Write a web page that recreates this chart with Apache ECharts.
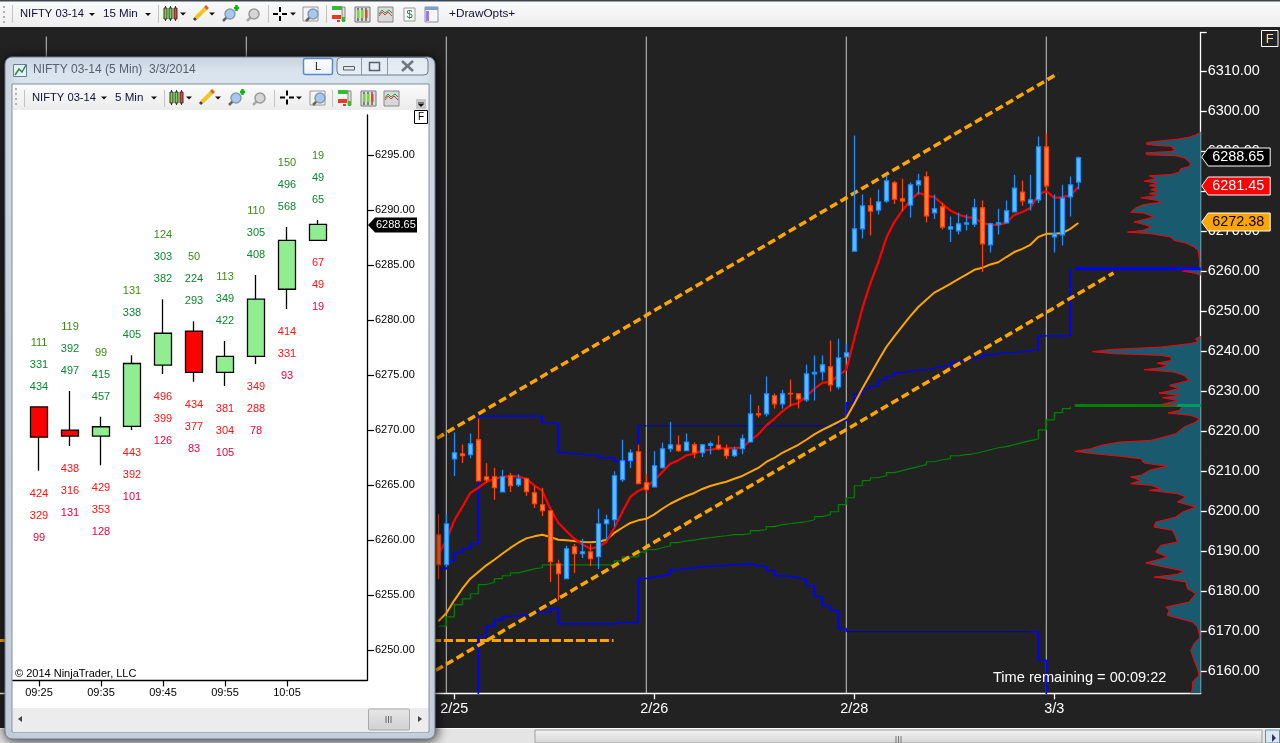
<!DOCTYPE html>
<html><head><meta charset="utf-8">
<style>html,body{margin:0;padding:0;background:#222}#c{width:1280px;height:743px}</style>
<script src="https://cdn.jsdelivr.net/npm/echarts@6/dist/echarts.min.js"></script>
</head><body><div id="c"></div>
<script>
// ---------- main chart data (15 Min) ----------
const firstBar = 54;
const opens = [6194.15,6186.65,6213.1,6214.4,6214.15,6217.9,6208.65,6208.65,6204.85,6208.9,6206.6,6208.15,6204.65,6201.65,6200.15,6186.9,6183.15,6191.15,6189.4,6189.85,6188.65,6196.9,6197.9,6207.9,6212.65,6214.9,6207.15,6206.1,6210.9,6215.65,6216.6,6215.15,6216.65,6214.65,6216.5,6216.6,6215.65,6213.9,6215.65,6217.35,6224.4,6224.4,6228.9,6226.9,6229.5,6229.4,6227.9,6234.4,6234.9,6236.15,6231.1,6238.65,6265.1,6270.65,6276.4,6275.35,6277.6,6282.15,6278.15,6276.6,6281.65,6283.65,6274.65,6276.15,6270.6,6270.15,6271.85,6271.85,6275.9,6266.65,6271.85,6272.15,6274.9,6279.85,6277.1,6277.9,6291.15,6268.65,6269.15,6278.65,6282.35];
const closes = [6186.65,6196.9,6214.65,6213.9,6216.9,6207.6,6207.85,6205.9,6208.65,6206.4,6208.15,6204.9,6201.9,6200.15,6187.4,6184.4,6190.65,6189.4,6189.9,6188.15,6196.9,6197.9,6208.9,6212.65,6214.65,6206.9,6205.4,6211.4,6215.65,6216.65,6215.15,6217.35,6214.65,6216.65,6216.9,6215.65,6213.9,6215.4,6218.15,6224.4,6224.1,6229.4,6226.9,6229.4,6229.35,6228.1,6234.4,6234.75,6236.65,6231.65,6238.4,6239.65,6270.65,6276.4,6275.1,6277.4,6282.65,6278.1,6277.6,6281.65,6282.65,6273.9,6275.65,6271.1,6271.15,6271.9,6272.15,6275.9,6266.9,6271.9,6272.15,6275.15,6280.85,6277.65,6277.9,6291.15,6281.4,6269.4,6278.35,6281.65,6288.4];
const lows = [6183,6186,6208.85,6212.1,6213.3,6207.6,6207.1,6202.9,6204.85,6204.85,6206.1,6203.85,6200.85,6198.85,6182.35,6177.75,6183.15,6184.6,6188.35,6186.35,6185.6,6192.9,6196.25,6207.35,6210.85,6206.9,6204.4,6206.1,6210.65,6214.85,6214.85,6215.1,6213.25,6213.6,6214.25,6215.25,6213.1,6213.6,6214.25,6217.35,6223.5,6223.75,6225.75,6225.65,6226.25,6225.75,6227.35,6227.75,6232.75,6230,6230.5,6238.5,6265.1,6268.25,6269,6274.25,6277.1,6276.85,6275.1,6273.5,6279.25,6272.25,6273.1,6270.5,6267.35,6269.25,6270.25,6271.1,6259.85,6264.75,6269.25,6272.15,6274.85,6276.35,6275.25,6277.1,6280.65,6264.75,6266.5,6273.75,6280.5];
const highs = [6199.25,6199.25,6219.75,6216.75,6219.5,6223.25,6212,6210.9,6210.4,6209.65,6209.25,6208.4,6206.25,6205.9,6200.15,6187.9,6191.4,6191.9,6193.15,6191.75,6200.65,6199.15,6210,6217.9,6215.5,6216.75,6209.25,6215,6217.15,6222.4,6219,6219.5,6217.25,6216.9,6217.5,6219,6216.75,6216.15,6219.25,6229.25,6226.5,6233.75,6229.5,6230.4,6233,6229.4,6236.75,6239,6239,6242.75,6243.15,6241.9,6294,6279.25,6278.4,6280.5,6284,6282.6,6283.15,6282.25,6284.4,6285,6279.25,6277.15,6273.75,6274.65,6274.25,6278.15,6277.75,6272.15,6275.65,6277.75,6284.15,6282.75,6284.15,6293.75,6294.4,6279.25,6281.65,6283.75,6288.75];
const redLine = [6189,6192.75,6197.75,6201.1,6204.6,6205.9,6207.35,6208.15,6208.6,6208.75,6208.75,6208.15,6206.5,6205.1,6200.65,6197.15,6195.1,6193.15,6191.75,6190.65,6191.1,6192.35,6195.9,6199.85,6203.6,6205.1,6206.1,6207.75,6209.85,6211.9,6212.75,6214,6214.4,6215.25,6215.4,6215.75,6215.75,6215.85,6215.9,6217.75,6219.25,6221.5,6223.15,6225,6226.5,6227.1,6228.75,6230.65,6232.15,6232.35,6234,6235.4,6243.25,6250.75,6257,6262.25,6268.4,6272.35,6275.25,6277.75,6279.65,6279,6278.6,6276.9,6275.25,6274.25,6273.6,6273.4,6272.1,6271.65,6271.65,6272.15,6274.15,6274.85,6275.85,6279.25,6280.1,6278.4,6278.6,6279,6281.1];
const orangeLine = [6172.5,6174.5,6177.75,6180.65,6183.15,6184.85,6186.5,6187.9,6189.4,6190.85,6192.15,6193.25,6193.75,6194.15,6193.6,6192.9,6192.75,6192.6,6192.35,6192.25,6192.4,6192.9,6194.6,6195.9,6197.1,6197.75,6198.15,6199.25,6200.65,6201.9,6202.9,6203.85,6204.6,6205.6,6206.35,6206.9,6207.4,6208.15,6208.85,6209.85,6210.85,6212.35,6213.35,6214.65,6215.65,6216.65,6217.9,6219.25,6220.4,6221.35,6222.35,6223.4,6226.9,6230.7,6234.25,6237.75,6241.1,6243.75,6246.3,6248.8,6251.1,6252.9,6254.7,6255.75,6256.9,6258.1,6259.2,6260.4,6260.9,6261.75,6262.3,6263.6,6264.85,6265.65,6266.65,6268.6,6269.4,6269.4,6269.6,6270.65,6272.1];
const greenLine = [6171.3,6173.6,6176.7,6178.1,6179.4,6181.7,6182.2,6183.2,6183.9,6184.6,6185.1,6185.6,6185.9,6186.6,6186.6,6186.6,6186.6,6186.6,6186.6,6186.6,6186.6,6186.6,6187.6,6188.6,6188.6,6189.8,6190.4,6190.9,6191.4,6192.2,6192.6,6192.8,6193.2,6193.4,6193.7,6193.9,6194.2,6194.2,6194.4,6195.2,6195.4,6196.2,6196.7,6196.9,6197.2,6197.4,6197.9,6198.7,6199.2,6199.9,6201.7,6203.4,6206.4,6207.7,6208.4,6208.9,6209.7,6210.2,6210.7,6211.2,6211.7,6212.4,6212.9,6213.2,6213.9,6214.2,6214.4,6214.9,6215.4,6215.9,6216.2,6216.7,6217.2,6217.7,6218.1,6220.4,6222.9,6224.7,6225.7,6226.2];
const blueUpper = [6185.6,6187.6,6189.7,6190.7,6191.9,6223.8,6223.8,6223.8,6223.8,6223.8,6223.8,6223.8,6223.8,6222.2,6221.9,6214.7,6214.4,6214.25,6214,6214,6213.4,6213.4,6212.6,6212.5,6212.5,6221.4,6221.4,6221.4,6221.4,6221.4,6221.4,6221.4,6221.4,6221.4,6221.4,6221.4,6221.4,6221.4,6221.4,6221.4,6221.4,6221.4,6221.4,6221.4,6221.4,6221.4,6221.4,6221.4,6221.4,6221.4,6222.7,6227.2,6229.3,6230.7,6231.3,6232.9,6233.8,6234.7,6235,6235.3,6235.3,6235.8,6236.25,6236.6,6237.3,6237.8,6238.25,6238.4,6239.1,6239.4,6239.7,6239.7,6239.9,6240.2,6240.4,6243.9,6243.9,6243.9,6243.9,6260.5];
const blueLowerStart = 58;
const blueLower = [6150,6168.75,6171.3,6172.8,6173.7,6173.9,6174.1,6174.6,6174.8,6174.8,6175.7,6171.9,6171.9,6171.9,6171.9,6171.9,6171.9,6171.9,6172.2,6172.2,6172.2,6183.2,6183.6,6183.8,6184.3,6185.4,6185.7,6185.8,6186.2,6186.2,6186.4,6186.4,6186.7,6186.7,6186.8,6186.4,6186.2,6185.2,6183.9,6183.7,6183.4,6182.9,6181.4,6178.7,6176.4,6175.2,6170.7,6169.9,6169.9,6169.9,6169.9,6169.9,6169.9,6169.9,6169.9,6169.9,6169.9,6169.9,6169.9,6169.9,6169.9,6169.9,6169.9,6169.9,6169.9,6169.9,6169.9,6169.9,6169.9,6169.9,6169.9,6162.75,6150];
const trendUpperX = [53.84,131.46], trendUpperY = [6218.3,6309.5];
const trendLowerX = [53.7,138.4], trendLowerY = [6160.25,6259.6];
const flatDashX = [-0.8,75.9], flatDashY = [6167.7,6167.7];
const sessionBars = [5,30,55,80,105,130];
const dateBars = [56,81,106,131];
const dateLabels = ['2/25','2/26','2/28','3/3'];
const priceTicks = [6160,6170,6180,6190,6200,6210,6220,6230,6240,6250,6260,6270,6280,6290,6300,6310];
const tagValues = [6288.65,6281.45,6272.38];
const tagFills = ['#000000','#ff0000','#ffa500'];
const tagInks = ['#ffffff','#ffffff','#000000'];
// ---------- volume profile ----------
const profilePrice = [6294.83,6294.17,6293.58,6293.08,6292.75,6292.25,6291.75,6291.5,6291.25,6290.75,6290.42,6290,6289.67,6289.17,6288.92,6288.42,6287.75,6286.92,6286.25,6285.67,6284.83,6284.25,6283.92,6283.17,6282.58,6282.08,6281.5,6281.08,6280.42,6280.08,6279.42,6279,6278.42,6277.75,6277.25,6276.75,6275.92,6274.83,6274.58,6274.17,6273.58,6273,6272.33,6271.75,6271.08,6270.25,6269.83,6269.42,6268.58,6267.75,6267.08,6266.08,6265.25,6263.58,6261.92,6260.67,6260.08,6259.58,6259.08,6243.75,6243.17,6242.33,6241.92,6241.08,6240.5,6239.92,6239.42,6239,6238.58,6237.75,6237.08,6236.5,6235.92,6235.42,6234.83,6234,6233.17,6232.75,6231.5,6230.67,6229.58,6229,6228.42,6227.75,6226.75,6226.25,6225.25,6224.58,6224,6223.17,6222.33,6221.08,6219.42,6218.58,6217.75,6217.33,6216.5,6215.67,6215,6214.42,6213.75,6213.17,6212.08,6211.25,6210.42,6209,6208.58,6207.75,6206.92,6206.5,6205.67,6205.25,6204.42,6203.58,6202.33,6201.08,6199.83,6198.58,6197.33,6196.08,6195.25,6193.58,6192.33,6191.5,6189.83,6188.58,6187.08,6186.08,6185.08,6184.25,6183.58,6183,6182.33,6180.67,6179.42,6177.33,6176.08,6175.25,6174,6173.42,6172.33,6171.08,6168.58,6166.92,6165.25,6162.75,6160.67,6159,6157.33,6155.67,6154.5];
const profileVol = [0,5,11.7,23.3,36.7,54,54,43.3,28.3,28.3,25,30,55,54,25,16.7,13.3,10,11.7,20,21.7,30,51.7,45,56.7,43.3,51.7,43.3,50,43.3,51.7,43.3,60,43.3,40,56.7,65,70,56.7,52.7,46.7,56.7,66.7,56.7,49.3,58.3,73.3,50,30,26.7,15,6.7,2.7,1.7,0.7,1.7,18.3,6.7,0,0,5,3.3,11.7,40,90,108.3,86.7,40,30,29.3,43.3,33.3,40,56.7,26.7,16.7,13.3,11.7,31.7,21.7,41.7,21.7,38.3,23.3,38.3,18.3,21.7,32.7,10,1.7,5,16.7,25,36.7,50,81.7,100,110,126,106.7,80,60,56.7,33.3,50,60,70,60,70,50,40,51.7,23.3,15,23.3,5,18.3,25,45,46.7,28.3,25,23.3,40,45,33.3,55,36.7,17.3,23.3,46.7,31.7,15,13.3,5,11.7,35,31.7,33.3,25,8.3,3.3,0.7,6.7,10,6.7,3.3,1.7,8.3,8.3,10];
const pocBlue = 6260.65, pocGreen = 6226.5, pocLen = 126;
// ---------- inset chart data (5 Min) ----------
const insetOpen  = [6272.1,6270,6269.45,6270.33,6275.9,6279,6275.25,6276.7,6282.8,6287.25];
const insetClose = [6269.35,6269.45,6270.3,6276.05,6278.8,6275.25,6276.7,6281.9,6287.25,6288.7];
const insetLow   = [6266.3,6268.55,6266.8,6270,6275.1,6274.4,6274,6276,6281,6287.25];
const insetHigh  = [6272.1,6273.55,6271.2,6276.8,6281.9,6279.9,6278.1,6284.1,6288.45,6289.1];
const insetAbove = [[111,331,434],[119,392,497],[99,415,457],[131,338,405],[124,303,382],[50,224,293],[113,349,422],[110,305,408],[150,496,568],[19,49,65]];
const insetBelow = [[424,329,99],[438,316,131],[429,353,128],[443,392,101],[496,399,126],[434,377,83],[381,304,105],[349,288,78],[414,331,93],[67,49,19]];
const insetTimeBars = [0,2,4,6,8];
const insetTimes = ['09:25','09:35','09:45','09:55','10:05'];
const insetPrices = [6250,6255,6260,6265,6270,6275,6280,6285,6290,6295];
const insetLast = 6288.65;

const FONT = '"Liberation Sans", Arial, sans-serif';
const withStart = (s, a) => a.map((v, k) => [s + k, v]);
const pairs = (x, y) => x.map((v, k) => [v, y[k]]);

// ---------- window chrome and toolbars ----------
const G = [];
const rect = (x,y,w,h,fill,z,o={}) => G.push({type:'rect',silent:true,z,shape:{x,y,width:w,height:h,r:o.r||0},style:Object.assign({fill,stroke:o.stroke||null,lineWidth:o.lw||1},o.shadow||{})});
const seg = (x1,y1,x2,y2,stroke,z,lw=1) => G.push({type:'line',silent:true,z,shape:{x1,y1,x2,y2},style:{stroke,lineWidth:lw}});
const poly = (points,fill,z,stroke) => G.push({type:'polygon',silent:true,z,shape:{points},style:{fill,stroke:stroke||null}});
const circ = (cx,cy,r,fill,z,stroke,lw=1) => G.push({type:'circle',silent:true,z,shape:{cx,cy,r},style:{fill,stroke,lineWidth:lw}});
const text = (t,x,y,size,fill,z,align='left') => G.push({type:'text',silent:true,z,style:{text:t,x,y,fill,font:size+'px '+FONT,textAlign:align,textVerticalAlign:'middle'}});
const vgrad = (a,b) => ({type:'linear',x:0,y:0,x2:0,y2:1,colorStops:[{offset:0,color:a},{offset:1,color:b}]});

const arrow = (x,y,z) => poly([[x-3,y-1.5],[x+3,y-1.5],[x,y+1.5]],'#111',z);
const candleIco = (x,y,z) => {
  [[0,'#6fdc2a'],[5,'#6fdc2a'],[10,'#f04030']].forEach(([d,c])=>{
    seg(x+d+1.5,y,x+d+1.5,y+15,'#333',z,1);
    rect(x+d,y+2,3,11,c,z+1,{stroke:'#333'});
  });
};
const pencil = (x,y,z) => {
  seg(x+1,y+14,x+3,y+12,'#444',z,3);
  seg(x+3,y+12,x+13,y+2,'#f2c522',z,4);
  seg(x+12.5,y+2.5,x+14.5,y+0.5,'#e05a2a',z+1,4);
};
const mag = (x,y,z,c,ring,plus) => {
  seg(x+1,y+14,x+6,y+9,ring=='#999'?'#aaa':'#666',z,2.5);
  circ(x+8,y+7,5,c,z+1,ring,1.5);
  if (plus) { seg(x+12,y+1,x+17,y+1,'#0ab30a',z+2,2.5); seg(x+14.5,y-2,x+14.5,y+4,'#0ab30a',z+2,2.5); }
};
const cross = (x,y,z) => {
  seg(x,y,x+5,y,'#000',z,2); seg(x+9,y,x+14,y,'#000',z,2);
  seg(x+7,y-7,x+7,y-2,'#000',z,2); seg(x+7,y+2,x+7,y+7,'#000',z,2);
};
const zoomBox = (x,y,z) => { rect(x,y,15,14,'#f4f4f4',z,{stroke:'#999'}); mag(x+2,y,z+1,'#a5c8ee','#8a9aaa',false); };
const barsIco = (x,y,z) => {
  rect(x,y,10,4,'#38b838',z); rect(x,y+9,9,4,'#e43a2a',z);
  rect(x+10,y+1,3,14,'#dddddd',z,{stroke:'#888'}); rect(x+10,y+11,3,5,'#38b838',z+1);
  rect(x+5,y+14,3,2,'#e43a2a',z);
};
const boxCandle = (x,y,z) => {
  rect(x,y,15,15,'#dcdcdc',z,{stroke:'#777'});
  [[3,'#6fdc2a'],[7,'#6fdc2a'],[11,'#f04030']].forEach(([d,c])=>{seg(x+d,y+1,x+d,y+14,'#222',z+1,1);rect(x+d-1,y+3,2.5,8,c,z+2);});
};
const boxChart = (x,y,z) => {
  rect(x,y,15,15,'#d8d8d8',z,{stroke:'#888'});
  G.push({type:'polyline',silent:true,z:z+1,shape:{points:[[x+1,y+9],[x+4,y+5],[x+7,y+8],[x+10,y+5],[x+14,y+9]]},style:{stroke:'#e03a3a',fill:null}});
  G.push({type:'polyline',silent:true,z:z+1,shape:{points:[[x+1,y+7],[x+4,y+3],[x+7,y+6],[x+11,y+3],[x+14,y+6]]},style:{stroke:'#2aa02a',fill:null}});
};

// main toolbar
rect(0,0,1280,27,vgrad('#fbfbfb','#eeeeee'),100);
rect(0,0,1280,1.5,'#3c4650',101);
[4,9,14,19].forEach(y=>rect(3,y+2,2,2,'#b0b0b0',101));
seg(12.5,5,12.5,23,'#c4c4c4',101);
text('NIFTY 03-14',20,14,11.2,'#10103a',101); arrow(92,14.5,101);
text('15 Min',103,14,11.6,'#10103a',101); arrow(148,14.5,101);
seg(158.5,5,158.5,23,'#c4c4c4',101);
candleIco(164,6,101); arrow(183,14,101); pencil(193,6,101); arrow(212,14,101);
mag(222,7,101,'#a5c8ee','#8a9aaa',true); mag(246,7,101,'#d5d5d5','#999',false);
seg(268.5,5,268.5,23,'#c4c4c4',101);
cross(273,14,101); arrow(293,14,101); zoomBox(303,7,101);
seg(326.5,5,326.5,23,'#c4c4c4',101);
barsIco(332,6,101); boxCandle(355,7,101); boxChart(378,7,101);
rect(404,8,11,13,'#fafafa',101,{stroke:'#999'}); text('$',409.5,15,11,'#0a8a3a',102,'center');
rect(425,7,13,15,'#f6f6f6',101,{stroke:'#8890a0'}); rect(425,7,13,3,'#7aa0d0',102); rect(426,11,3,10,'#9a7ae0',102);
text('+DrawOpts+',449,14,11.8,'#10103a',101);
// F box, time remaining
rect(1261.5,30.5,16.5,16,'#222',101,{stroke:'#fff'});
text('F',1269.7,39,13,'#ffd9a8',102,'center');
text('Time remaining = 00:09:22',993,678,14.6,'#ffffff',30);
// bottom scrollbar
rect(0,729,1280,14,'#e4e4e4',40);
seg(0,728.5,1280,728.5,'#ffffff',41);
rect(535,730,727,13,vgrad('#f4f4f4','#d4d4d4'),41,{stroke:'#a0a0a0'});
[896,898.5,901].forEach(x=>seg(x,736,x,743,'#777',42));
rect(1265.5,730,14,13,'#d8e8f4',41,{stroke:'#5f8fb0'});
poly([[1272,734],[1272,742],[1276,738]],'#335',42);

// inset window
rect(5,57,430,682,vgrad('#d9e4ee','#cddae6'),50,{r:7,stroke:'#6f7d8a',shadow:{shadowBlur:12,shadowColor:'rgba(0,0,0,0.85)',shadowOffsetX:1,shadowOffsetY:1}});
rect(12,84,417,648,'#ffffff',51,{stroke:'#7f8d9b'});
rect(13,85,415,25,vgrad('#fafafa','#ececec'),52);
rect(13,708,415,24,'#ececec',52);
text('NIFTY 03-14 (5 Min)  3/3/2014',33,69.5,12,'#55606c',52);
G.push({type:'polyline',silent:true,z:53,shape:{points:[[15,75],[19,69],[22,72],[26,65]]},style:{stroke:'#2c8a4a',fill:null,lineWidth:1.5}});
rect(13.5,64.5,13,12,'rgba(255,255,255,0.5)',52,{stroke:'#6080a0'});
rect(303.5,58.5,29,16,vgrad('#ffffff','#e8f2fa'),52,{stroke:'#5a88d0',lw:1.5,r:2});
text('L',318,66.5,11,'#222',53,'center');
rect(337,57.5,91,17.5,'rgba(235,242,248,0.7)',52,{stroke:'#6a7a8a',r:4});
seg(361.5,58,361.5,75,'#8a98a6',53); seg(387.5,58,387.5,75,'#8a98a6',53);
rect(343.5,66.5,11,3.5,'#e6e6e6',53,{stroke:'#55606c'});
rect(369.5,62.5,10,8,'none',53,{stroke:'#55606c',lw:1.5}); 
seg(402,61,413,71,'#6e7780',53,2.5); seg(413,61,402,71,'#6e7780',53,2.5);
// inset toolbar
[88,93,98,103].forEach(y=>rect(15,y,2,2,'#b0b0b0',53));
seg(24.5,90,24.5,107,'#c4c4c4',53);
text('NIFTY 03-14',32,97.5,11.2,'#10103a',53); arrow(104,98,53);
text('5 Min',115,97.5,11.6,'#10103a',53); arrow(154,98,53);
seg(164.5,90,164.5,107,'#c4c4c4',53);
candleIco(170,90,53); arrow(189,98,53); pencil(199,90,53); arrow(218,98,53);
mag(228,91,53,'#a5c8ee','#8a9aaa',true); mag(252,91,53,'#d5d5d5','#999',false);
seg(274.5,90,274.5,107,'#c4c4c4',53);
cross(280,97.5,53); arrow(299,98,53); zoomBox(310,91,53);
seg(332.5,90,332.5,107,'#c4c4c4',53);
barsIco(338,90,53); boxCandle(361,91,53); boxChart(384,91,53);
rect(416,99,10,10,'#c8c8c8',53); seg(418,103,424,103,'#222',54); arrow(421,105.5,54);
// inset F box, scrollbar, copyright
rect(414.5,110.5,13,13,'#ffffff',53,{stroke:'#000'});
text('F',421,117.5,10,'#000',54,'center');
rect(368.5,709,41,21,vgrad('#e8e8e8','#cfcfcf'),53,{stroke:'#a8a8a8',r:1});
[386,388.5,391].forEach(x=>seg(x,716,x,723,'#666',54));
poly([[22,716],[22,722],[18,719]],'#444',53); poly([[418,716],[418,722],[422,719]],'#444',53);
text('© 2014 NinjaTrader, LLC',15,674,11,'#000000',58);

// ---------- series render helpers ----------
function renderProfile(params, api) {
  if (params.dataIndex !== 0) return null;
  const kids = [];
  let run = [];
  const flush = () => {
    if (run.length < 2) { run = []; return; }
    const base0 = api.coord([0, run[0][1]]), baseN = api.coord([0, run[run.length-1][1]]);
    const pts = run.map(p => api.coord(p));
    kids.push({type:'polygon',shape:{points:[base0].concat(pts,[baseN])},style:{fill:'#1a5a6e'}});
    kids.push({type:'polyline',shape:{points:pts},style:{stroke:'#ff0000',fill:null,lineWidth:1}});
    run = [];
  };
  profilePrice.forEach((p,k) => {
    if (k>0 && profileVol[k]===0 && profileVol[k-1]===0) flush();
    run.push([profileVol[k],p]);
  });
  flush();
  return {type:'group',children:kids};
}
function renderTags(params, api) {
  const c = api.coord([api.value(0), api.value(1)]);
  const k = params.dataIndex, x = c[0], y = Math.round(c[1]);
  return {type:'group',children:[
    {type:'polygon',shape:{points:[[x+1,y],[x+7.5,y-9],[x+69.5,y-9],[x+69.5,y+9],[x+7.5,y+9]]},style:{fill:tagFills[k],stroke:'#ffffff',lineWidth:1}},
    {type:'text',style:{text:tagValues[k].toFixed(2),x:x+11.5,y:y,fill:tagInks[k],font:'14.4px '+FONT,textVerticalAlign:'middle'}}
  ]};
}
function renderInsetText(params, api) {
  const k = params.dataIndex;
  const hi = api.coord([k, insetHigh[k]]), lo = api.coord([k, insetLow[k]]);
  const kids = [];
  insetAbove[k].forEach((v,r)=>kids.push({type:'text',style:{text:String(v),x:hi[0],y:hi[1]-20-22*(2-r),fill:r==0?'#3c8a10':'#0a8530',font:'11px '+FONT,textAlign:'center',textVerticalAlign:'middle'}}));
  insetBelow[k].forEach((v,r)=>kids.push({type:'text',style:{text:String(v),x:lo[0],y:lo[1]+23+22*r,fill:r==2?'#e8003c':'#ff1010',font:'11px '+FONT,textAlign:'center',textVerticalAlign:'middle'}}));
  return {type:'group',children:kids};
}
function renderInsetTag(params, api) {
  const c = api.coord([api.value(0), api.value(1)]);
  const x = c[0], y = Math.round(c[1]);
  return {type:'group',children:[
    {type:'polygon',shape:{points:[[x+1,y],[x+8,y-7.5],[x+50,y-7.5],[x+50,y+7.5],[x+8,y+7.5]]},style:{fill:'#000'}},
    {type:'text',style:{text:insetLast.toFixed(2),x:x+9,y:y,fill:'#fff',font:'11px '+FONT,textVerticalAlign:'middle'}}
  ]};
}
const line = (data,color,width,z,extra={}) => Object.assign({type:'line',xAxisIndex:0,yAxisIndex:0,data,symbol:'none',showSymbol:false,silent:true,z,animation:false,lineStyle:{color,width}},extra);

const vLineData = [];
sessionBars.forEach(b=>{vLineData.push([b,6318.75],[b,6154.5],['-','-']);});

const upperPts = withStart(firstBar,blueUpper), lowerPts = withStart(blueLowerStart,blueLower);
const MAIN_Y = {min:6154.5,max:6319.75};
const option = {
  backgroundColor:'#222222',
  animation:false,
  grid:[
    {left:0,width:1200.7,top:32.5,height:660.8},
    {left:1000.7,width:200,top:32.5,height:660.8},
    {left:13,width:354,top:115,height:565.4,z:55}
  ],
  xAxis:[
    {gridIndex:0,type:'value',min:-0.7875,max:149.3,splitLine:{show:false},
     axisLine:{onZero:false,lineStyle:{color:'#fff',width:1.3}},
     axisTick:{length:6,customValues:dateBars,lineStyle:{color:'#fff',width:1.3}},
     axisLabel:{customValues:dateBars,color:'#fff',fontSize:14.4,fontFamily:FONT,margin:9,formatter:v=>dateLabels[dateBars.indexOf(v)]}},
    {gridIndex:1,type:'value',min:0,max:200,inverse:true,show:false},
    {gridIndex:2,type:'value',min:-0.8387,max:10.58,z:55,splitLine:{show:false},
     axisLine:{onZero:false,lineStyle:{color:'#000',width:1.3}},
     axisTick:{length:6,customValues:insetTimeBars,lineStyle:{color:'#000',width:1.2}},
     axisLabel:{customValues:insetTimeBars,color:'#000',fontSize:11,fontFamily:FONT,margin:7,formatter:v=>insetTimes[insetTimeBars.indexOf(v)]}}
  ],
  yAxis:[
    Object.assign({gridIndex:0,type:'value',position:'right',splitLine:{show:false},
     axisLine:{show:true,onZero:false,lineStyle:{color:'#fff',width:1.3}},
     axisTick:{show:true,length:6,customValues:priceTicks.concat([6319.75]),lineStyle:{color:'#fff',width:1.3}},
     axisLabel:{customValues:priceTicks,color:'#fff',fontSize:14.4,fontFamily:FONT,margin:7,padding:[2,0,0,0],formatter:v=>v.toFixed(2)}},MAIN_Y),
    Object.assign({gridIndex:1,type:'value',show:false},MAIN_Y),
    {gridIndex:2,type:'value',position:'right',min:6247.24,max:6298.64,z:55,splitLine:{show:false},
     axisLine:{show:true,onZero:false,lineStyle:{color:'#000',width:1.3}},
     axisTick:{show:true,length:7,customValues:insetPrices,lineStyle:{color:'#000',width:1.2}},
     axisLabel:{customValues:insetPrices,color:'#000',fontSize:11,fontFamily:FONT,margin:8,padding:[2,0,0,0],formatter:v=>v.toFixed(2)}}
  ],
  graphic:{elements:G},
  series:[
    line(vLineData,'#c8c8c8',1,1,{connectNulls:false}),
    line(withStart(firstBar,greenLine),'#008000',1.2,2,{step:'end'}),
    line(upperPts.slice(0,26),'#0000ff',1.4,2,{step:'end'}),
    line(upperPts.slice(25,51),'#0000c0',1,2,{step:'end'}),
    line(upperPts.slice(50),'#0000ff',1.3,2,{step:'end'}),
    line(lowerPts.slice(0,48),'#0000ff',1.6,2,{step:'end'}),
    line(lowerPts.slice(47,71),'#0000c0',1,2,{step:'end'}),
    line(lowerPts.slice(70),'#0000ff',1.6,2,{step:'end'}),
    line(pairs(flatDashX,flatDashY),'#ffa500',3,3,{lineStyle:{color:'#ffa500',width:3,type:[9,3]}}),
    line(pairs(trendUpperX,trendUpperY),'#ffa500',3.5,3,{lineStyle:{color:'#ffa500',width:3.5,type:[8,4]}}),
    line(pairs(trendLowerX,trendLowerY),'#ffa500',3.5,3,{lineStyle:{color:'#ffa500',width:3.5,type:[8,4]}}),
    line(withStart(firstBar,orangeLine),'#ffa500',2,3),
    line(withStart(firstBar,redLine),'#ff0000',2.2,3),
    {type:'candlestick',xAxisIndex:0,yAxisIndex:0,z:5,silent:true,animation:false,barWidth:5,
     data:opens.map((o,k)=>[firstBar+k,o,closes[k],lows[k],highs[k]]),
     itemStyle:{color:'#66bbff',color0:'#ff7f40',borderColor:'#1e90ff',borderColor0:'#ff4500',borderWidth:1.2}},
    {type:'custom',xAxisIndex:1,yAxisIndex:1,z:4,silent:true,animation:false,renderItem:renderProfile,data:[[0,profilePrice[0]]],clip:false},
    line([[0,pocBlue],[pocLen,pocBlue]],'#0000ff',3,6,{xAxisIndex:1,yAxisIndex:1}),
    line([[0,pocGreen],[pocLen,pocGreen]],'#008000',3,3,{xAxisIndex:1,yAxisIndex:1}),
    line([[0,pocGreen],[24,pocGreen]],'#009a5a',3,6,{xAxisIndex:1,yAxisIndex:1}),
    {type:'custom',xAxisIndex:0,yAxisIndex:0,z:8,silent:true,animation:false,clip:false,renderItem:renderTags,
     data:tagValues.map(v=>[149.3,v])},
    {type:'candlestick',xAxisIndex:2,yAxisIndex:2,z:56,silent:true,animation:false,barWidth:18,
     data:insetOpen.map((o,k)=>[k,o,insetClose[k],insetLow[k],insetHigh[k]]),
     itemStyle:{color:'#90ee90',color0:'#ff0000',borderColor:'#000',borderColor0:'#000',borderWidth:1.3}},
    {type:'custom',xAxisIndex:2,yAxisIndex:2,z:57,silent:true,animation:false,clip:false,renderItem:renderInsetText,
     data:insetOpen.map((o,k)=>[k,o])},
    {type:'custom',xAxisIndex:2,yAxisIndex:2,z:58,silent:true,animation:false,clip:false,renderItem:renderInsetTag,
     data:[[10.58,insetLast]]}
  ]
};
echarts.init(document.getElementById('c'),null,{renderer:'canvas'}).setOption(option);
</script></body></html>
